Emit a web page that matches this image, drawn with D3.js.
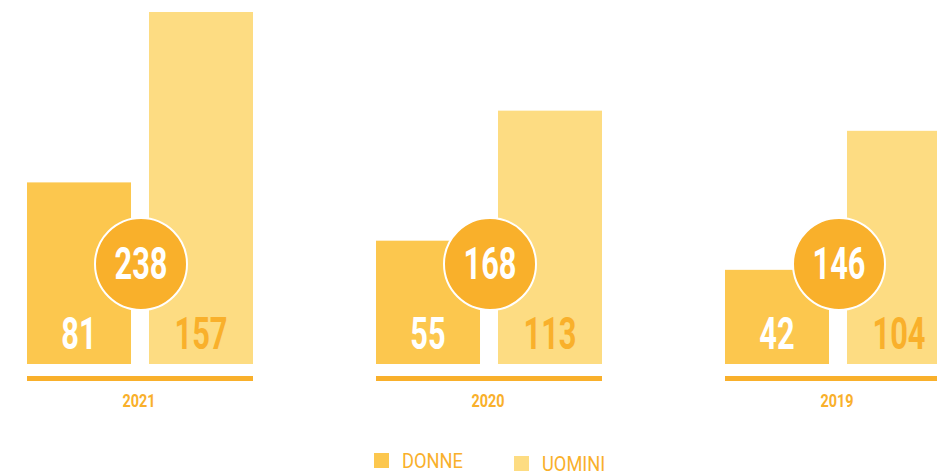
<!DOCTYPE html>
<html>
<head>
<meta charset="utf-8">
<script src="https://cdn.jsdelivr.net/npm/d3@7"></script>
<style>
  body { margin: 0; background: #fff; }
  text { font-family: Roboto, "DejaVu Sans Condensed", sans-serif; font-weight: bold; }
</style>
</head>
<body>
<div id="chart"></div>
<script>
// data
const years = ["2021", "2020", "2019"];
const donne = [81, 55, 42];
const uomini = [157, 113, 104];
const totals = [238, 168, 146];
const legendLabels = ["DONNE", "UOMINI"];

const W = 937, H = 474;
const colDonne = "#fcc74e", colUomini = "#fddc82", colAccent = "#f9b02b";

let svg = d3.select("#chart").append("svg")
  .attr("width", W).attr("height", H);

// group position, each group = 2 bars
let groupW = 226;
let x0 = d3.scaleBand().domain(years).range([27, 27 + 349 * 3]);
let x1 = d3.scaleBand().domain(["d", "u"]).range([0, groupW]).paddingInner(0.1475);
let y = d3.scaleLinear().domain([0, 157]).range([364, 12]);

let groups = svg.selectAll(".grp")
  .data(years)
  .enter().append("g")
  .attr("class", "grp")
  .attr("transform", d => "translate(" + Math.round(x0(d)) + ",0)");

// bars
groups.append("rect")
  .attr("x", x1("d")).attr("width", x1.bandwidth())
  .attr("y", (d, i) => y(donne[i]))
  .attr("height", (d, i) => y(0) - y(donne[i]))
  .attr("fill", colDonne);

groups.append("rect")
  .attr("x", x1("u")).attr("width", x1.bandwidth())
  .attr("y", (d, i) => y(uomini[i]))
  .attr("height", (d, i) => y(0) - y(uomini[i]))
  .attr("fill", colUomini);

// big condensed numbers
function bigText(sel, cx, cy, str, fill) {
  sel.append("text")
    .attr("transform", "translate(" + cx + "," + cy + ") scale(0.7,1)")
    .attr("text-anchor", "middle")
    .attr("font-size", 44)
    .attr("fill", fill)
    .text(str);
}
groups.each(function(d, i) {
  let g = d3.select(this);
  bigText(g, x1("d") + x1.bandwidth() / 2, 349, donne[i], "#fff");
  bigText(g, x1("u") + x1.bandwidth() / 2, 349, uomini[i], colAccent);
});

// baseline under each group
groups.append("rect")
  .attr("x", 0).attr("width", groupW)
  .attr("y", 376).attr("height", 5)
  .attr("fill", colAccent);

// year label
groups.append("text")
  .attr("transform", "translate(" + (groupW / 2 - 1) + ",407) scale(0.8,1)")
  .attr("text-anchor", "middle")
  .attr("font-size", 18)
  .attr("fill", colAccent)
  .text(d => d);

// total circle
groups.append("circle")
  .attr("cx", groupW / 2 + 1).attr("cy", 264).attr("r", 46)
  .attr("fill", colAccent)
  .attr("stroke", "#fff").attr("stroke-width", 2);

groups.each(function(d, i) {
  bigText(d3.select(this), groupW / 2 + 1, 279, totals[i], "#fff");
});

// legend
let legend = svg.append("g");
let lx = [374, 514], ly = [453, 456];
legendLabels.forEach(function(lab, i) {
  legend.append("rect")
    .attr("x", lx[i]).attr("y", ly[i]).attr("width", 15).attr("height", 15)
    .attr("fill", i == 0 ? colDonne : colUomini);
  legend.append("text")
    .attr("transform", "translate(" + (lx[i] + 28) + "," + (ly[i] + 15) + ") scale(0.87,1)")
    .attr("font-size", 21)
    .style("font-weight", "normal")
    .attr("fill", colAccent)
    .text(lab);
});
</script>
</body>
</html>
